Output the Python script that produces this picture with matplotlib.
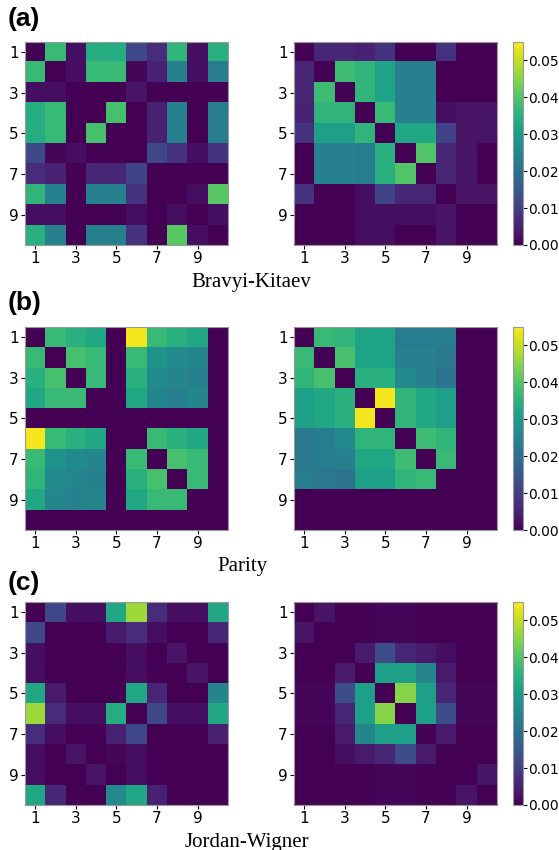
import matplotlib
matplotlib.use("Agg")
import matplotlib.pyplot as plt
import numpy as np

# values (rows/cols = orbital 1..10)
bk_left = [
    [0, .037, .002, .034, .034, .012, .007, .036, .002, .035],
    [.037, 0, .002, .037, .037, .001, .005, .024, .002, .023],
    [.002, .002, 0, 0, 0, .003, 0, 0, 0, 0],
    [.034, .037, 0, 0, .039, 0, .005, .024, 0, .023],
    [.034, .037, 0, .039, 0, 0, .005, .024, 0, .023],
    [.012, .001, .002, 0, 0, 0, .012, .008, .002, .008],
    [.007, .005, 0, .006, .006, .011, 0, 0, 0, 0],
    [.036, .024, 0, .024, .024, .008, 0, 0, .002, .041],
    [.002, .002, 0, 0, 0, .002, 0, .002, 0, .002],
    [.035, .024, 0, .024, .024, .008, 0, .041, .002, 0],
]
bk_right = [
    [0, .006, .006, .005, .008, 0, 0, .008, 0, 0],
    [.006, 0, .038, .036, .032, .024, .024, 0, 0, 0],
    [.006, .038, 0, .036, .032, .024, .024, 0, 0, 0],
    [.005, .036, .036, 0, .037, .024, .024, .002, .003, .003],
    [.008, .031, .031, .036, 0, .033, .033, .011, .003, .003],
    [0, .024, .024, .023, .035, 0, .040, .006, .003, 0],
    [0, .024, .024, .023, .035, .040, 0, .006, .003, 0],
    [.008, 0, 0, .002, .011, .006, .006, 0, .003, .003],
    [0, 0, 0, .002, .002, .002, .002, .003, 0, 0],
    [0, 0, 0, .002, .002, 0, 0, .003, 0, 0],
]
par_left = [
    [0, .037, .035, .033, 0, .054, .037, .035, .033, 0],
    [.037, 0, .039, .037, 0, .037, .028, .026, .025, 0],
    [.035, .039, 0, .037, 0, .035, .026, .025, .024, 0],
    [.033, .037, .037, 0, 0, .033, .025, .024, .025, 0],
    [0, 0, 0, 0, 0, 0, 0, 0, 0, 0],
    [.054, .037, .035, .033, 0, 0, .037, .035, .033, 0],
    [.037, .028, .026, .025, 0, .037, 0, .039, .037, 0],
    [.036, .026, .025, .024, 0, .035, .039, 0, .037, 0],
    [.033, .025, .024, .025, 0, .033, .037, .037, 0, 0],
    [0, 0, 0, 0, 0, 0, 0, 0, 0, 0],
]
par_right = [
    [0, .037, .036, .032, .032, .023, .023, .023, 0, 0],
    [.037, 0, .039, .032, .032, .024, .024, .022, 0, 0],
    [.036, .039, 0, .035, .035, .026, .024, .021, 0, 0],
    [.031, .033, .035, 0, .054, .036, .033, .031, 0, 0],
    [.031, .033, .035, .054, 0, .036, .033, .031, 0, 0],
    [.022, .023, .026, .036, .036, 0, .038, .036, 0, 0],
    [.022, .023, .024, .033, .033, .038, 0, .037, 0, 0],
    [.023, .022, .021, .031, .031, .036, .037, 0, 0, 0],
    [0, 0, 0, 0, 0, 0, 0, 0, 0, 0],
    [0, 0, 0, 0, 0, 0, 0, 0, 0, 0],
]
jw_left = [
    [0, .012, .002, .002, .033, .047, .007, .002, .002, .033],
    [.012, 0, 0, 0, .004, .007, .002, 0, 0, .006],
    [.002, 0, 0, 0, 0, .002, 0, .003, 0, 0],
    [.002, 0, 0, 0, 0, .002, 0, 0, .003, 0],
    [.033, .004, 0, 0, 0, .033, .006, 0, 0, .025],
    [.047, .007, .002, .002, .034, 0, .012, .002, .002, .033],
    [.007, .002, 0, 0, .005, .012, 0, 0, 0, .005],
    [.002, 0, .003, 0, .001, .002, 0, 0, 0, 0],
    [.002, 0, 0, .003, 0, .002, 0, 0, 0, 0],
    [.033, .006, 0, 0, .026, .033, .005, 0, 0, 0],
]
jw_right = [
    [0, .003, 0, 0, .001, .001, 0, 0, 0, 0],
    [.003, 0, 0, 0, .001, .001, 0, 0, 0, 0],
    [0, 0, 0, .004, .013, .006, .004, .002, 0, 0],
    [0, 0, .004, 0, .031, .031, .025, .004, 0, 0],
    [.001, .001, .013, .031, 0, .045, .031, .006, .001, .001],
    [.001, .001, .006, .031, .045, 0, .031, .013, .001, .001],
    [0, 0, .004, .025, .031, .031, 0, .004, 0, 0],
    [0, 0, .002, .004, .006, .013, .004, 0, 0, 0],
    [0, 0, 0, 0, .001, .001, 0, 0, 0, .003],
    [0, 0, 0, 0, .001, .001, 0, 0, .003, 0],
]

panels = ['(a)', '(b)', '(c)']
captions = ['Bravyi-Kitaev', 'Parity', 'Jordan-Wigner']
pairs = [(bk_left, bk_right), (par_left, par_right), (jw_left, jw_right)]
tick_pos = [0, 2, 4, 6, 8]
tick_lab = ['1', '3', '5', '7', '9']

W, H = 559, 850
fig = plt.figure(figsize=(W / 100, H / 100), dpi=100)


def rect(x0, y0, x1, y1):
    return [x0 / W, 1 - y1 / H, (x1 - x0) / W, (y1 - y0) / H]


row_tops = [42, 327, 602]
cap_y = [283, 567, 842]
lab_y = [7, 291, 571]
cap_x = [251, 242, 247]
for i in range(3):
    top = row_tops[i]
    bot = top + 203
    for j, (x0, x1) in enumerate([(25, 228), (294, 497)]):
        ax = fig.add_axes(rect(x0, top, x1, bot))
        im = ax.imshow(np.array(pairs[i][j]), cmap='viridis', vmin=0, vmax=0.055,
                       interpolation='nearest', aspect='auto')
        ax.set_xticks(tick_pos)
        ax.set_xticklabels(tick_lab)
        ax.set_yticks(tick_pos)
        ax.set_yticklabels(tick_lab)
        ax.tick_params(labelsize=11, length=3, pad=1.5)
        for s in ax.spines.values():
            s.set_color('#999999')
            s.set_linewidth(0.8)
    cax = fig.add_axes(rect(513, top, 523, bot))
    cb = fig.colorbar(im, cax=cax, ticks=[0, 0.01, 0.02, 0.03, 0.04, 0.05])
    cb.ax.set_yticklabels(['0.00', '0.01', '0.02', '0.03', '0.04', '0.05'])
    cb.ax.tick_params(labelsize=10, length=3, pad=1)
    cb.outline.set_edgecolor('#999999')
    cb.outline.set_linewidth(0.8)
    fig.text(8 / W, 1 - lab_y[i] / H, panels[i], fontsize=19, fontweight='bold',
             family='Liberation Sans', va='top', ha='left')
    fig.text(cap_x[i] / W, 1 - cap_y[i] / H, captions[i], fontsize=15,
             family='Liberation Serif', va='center', ha='center')

fig.savefig('out.png', dpi=100)
